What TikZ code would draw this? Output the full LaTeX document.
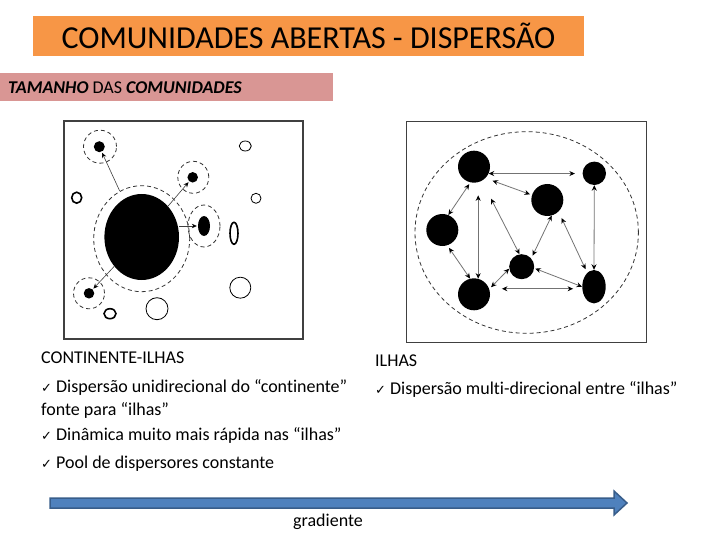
\documentclass[tikz,border=0pt]{standalone}
\usepackage{fontspec}
\setmainfont{Carlito}[Ligatures=NoCommon]
\newfontfamily\symfont{DejaVu Sans}
\usetikzlibrary{arrows.meta,shapes.geometric,calc}
\definecolor{titleorange}{HTML}{F79646}
\definecolor{subpink}{HTML}{D99694}
\definecolor{arrowblue}{HTML}{4F81BD}
\definecolor{arrowedge}{HTML}{385D8A}
\definecolor{framegray}{HTML}{404040}
\newcommand\ckmark{{\symfont\fontsize{13}{14}\selectfont ✓}}
\begin{document}
\begin{tikzpicture}[x=1pt,y=-1pt,
  blob/.style={ellipse, fill=black, inner sep=0pt},
  ring/.style={ellipse, draw=black!80, dash pattern=on 4pt off 3pt, line width=0.8pt, inner sep=0pt},
  hole/.style={ellipse, draw=black, line width=0.8pt, inner sep=0pt},
  thickhole/.style={ellipse, draw=black, line width=1.6pt, inner sep=0pt},
  frame/.style={rectangle, draw=framegray, line width=1.5pt, inner sep=0pt},
  onearrow/.style={-{Stealth[length=5pt,width=4.5pt,black]}, draw=black!75, line width=0.6pt, shorten >=1pt},
  dbl/.style={{Stealth[length=5.5pt,width=5pt,black]}-{Stealth[length=5.5pt,width=5pt,black]}, draw=black!55, line width=0.8pt},
  bodytext/.style={anchor=base west, inner sep=0pt, font=\fontsize{18}{21.6}\selectfont},
  blockarrow/.style={fill=arrowblue, draw=arrowedge, line width=1.5pt, line join=miter}
]
\useasboundingbox (0,0) rectangle (720,540);

% title
\node[fill=titleorange, minimum width=551pt, minimum height=40pt, inner sep=0pt,
      font=\fontsize{32}{38}\selectfont] (title) at (308.5,36) {COMUNIDADES ABERTAS - DISPERSÃO};
\node[fill=subpink, minimum width=333pt, minimum height=28pt, inner sep=0pt] (subbox) at (166.5,87) {};
\node[anchor=west, inner sep=0pt, font=\fontsize{18}{21.6}\selectfont] (sub) at (8,88)
  {\textbf{\textit{TAMANHO}} DAS \textbf{\textit{COMUNIDADES}}};

% frames
\node[frame, minimum width=239pt, minimum height=218pt] (lframe) at (183.5,230) {};
\node[frame, minimum width=240pt, minimum height=221pt] (rframe) at (526.7,231.8) {};

% left: continent-islands
\node[blob, minimum width=74.6pt, minimum height=86pt] (big) at (141.7,237) {};
\node[ring, minimum width=96pt, minimum height=106pt] (bigring) at (141.7,238.7) {};
\node[blob, minimum width=11pt, minimum height=11pt] (i1) at (99.3,146.7) {};
\node[ring, minimum width=33pt, minimum height=33pt] (r1) at (100,146.7) {};
\node[blob, minimum width=10.5pt, minimum height=10.5pt] (i2) at (192.7,177.3) {};
\node[ring, minimum width=31pt, minimum height=32pt] (r2) at (193.3,177.3) {};
\node[blob, minimum width=12pt, minimum height=20pt] (i3) at (204,226) {};
\node[ring, minimum width=32pt, minimum height=42pt] (r3) at (204,226) {};
\node[blob, minimum width=10.5pt, minimum height=10.5pt] (i4) at (89,293.3) {};
\node[ring, minimum width=31pt, minimum height=31pt] (r4) at (89,293.3) {};

\node[hole, minimum width=12pt, minimum height=10pt] (e1) at (245.3,146) {};
\node[hole, minimum width=10pt, minimum height=10pt] (e2) at (256,198.3) {};
\node[thickhole, minimum width=10pt, minimum height=11pt] (e3) at (76.7,197.7) {};
\node[thickhole, minimum width=8pt, minimum height=22pt] (e4) at (234,233.3) {};
\node[hole, minimum width=21pt, minimum height=21pt] (e5) at (240.3,287.7) {};
\node[hole, minimum width=22pt, minimum height=22pt] (e6) at (157,308.7) {};
\node[thickhole, minimum width=12pt, minimum height=10pt] (e7) at (110,313.7) {};

\draw[onearrow] (bigring) -- (i1);
\draw[onearrow] (big) -- (i2);
\draw[onearrow] (i3.west -| big.east) -- (i3);
\draw[onearrow] (big) -- (i4);

% right: islands
\node[ring, minimum width=223.4pt, minimum height=201.6pt] (rring) at (526.7,232.5) {};
\node[blob, minimum width=32pt, minimum height=32pt] (A) at (474,166.7) {};
\node[blob, minimum width=23.4pt, minimum height=23.4pt] (B) at (594.3,173.3) {};
\node[blob, minimum width=32pt, minimum height=32pt] (C) at (547.3,200) {};
\node[blob, minimum width=32pt, minimum height=32pt] (D) at (442.3,230) {};
\node[blob, minimum width=25pt, minimum height=25pt] (E) at (521.7,266.7) {};
\node[blob, minimum width=32pt, minimum height=32pt] (F) at (474,294.3) {};
\node[blob, minimum width=23.4pt, minimum height=33.4pt] (G) at (594,286.7) {};

\draw[dbl, shorten >=7.5pt] (A.-25) -- (A.-25 -| B.west);
\draw[dbl, shorten <=7.5pt, shorten >=2pt] (A.-45) -- (C.162);
\draw[dbl, shorten <=2pt] (A.-103) -- (D.68);
\draw[dbl, shorten <=3pt] (D.-72) -- (F.104);
\draw[dbl, shorten <=13pt] (A.-75) -- (F.75);
\draw[dbl, shorten <=20pt] (A.-61) -- (E.100);
\draw[dbl, shorten >=3pt] (C.-74) -- (E.41);
\draw[dbl, shorten <=7pt, shorten >=4pt] (C.-46) -- (G.116);
\draw[dbl] (B.south) -- (G.north);
\draw[dbl, shorten >=2.5pt] (E.-171) -- (F.19);
\draw[dbl, shorten <=1pt] (E.-7) -- (G.west);
\draw[dbl, shorten <=12.7pt, shorten >=9pt] (F.20) -- (F.20 -| G.west);

% texts
\node[bodytext] (t1) at (41,363) {CONTINENTE-ILHAS};
\node[bodytext] (t2) at (41,392) {\ckmark\ Dispersão unidirecional do “continente”};
\node[bodytext] (t3) at (41,415) {fonte para “ilhas”};
\node[bodytext] (t4) at (41,440) {\ckmark\ Dinâmica muito mais rápida nas “ilhas”};
\node[bodytext] (t5) at (41,468) {\ckmark\ Pool de dispersores constante};
\node[bodytext] (t6) at (375,366) {ILHAS};
\node[bodytext] (t7) at (375,394) {\ckmark\ Dispersão multi-direcional entre “ilhas”};

% gradient arrow
\coordinate (gs) at (50,503);
\coordinate (ge) at (627,503);
\draw[blockarrow] ($(gs)+(0,-5)$) -- ($(ge)+(-13,-5)$) -- ($(ge)+(-13,-12)$) -- (ge)
  -- ($(ge)+(-13,12)$) -- ($(ge)+(-13,5)$) -- ($(gs)+(0,5)$) -- cycle;
\node[bodytext] (t8) at (293,526) {gradiente};
\end{tikzpicture}
\end{document}
